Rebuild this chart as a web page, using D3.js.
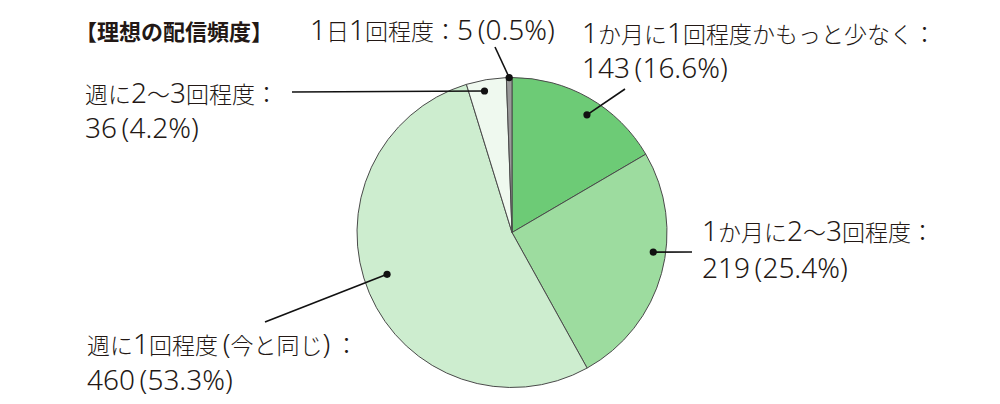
<!DOCTYPE html>
<html><head><meta charset="utf-8">
<script src="https://cdn.jsdelivr.net/npm/d3@7"></script>
<style>
html,body{margin:0;padding:0;background:#fff;}
text{font-family:"Noto Sans CJK JP","Noto Sans",sans-serif;fill:#231815;}
tspan.lat{font-family:"Noto Sans","Noto Sans CJK JP",sans-serif;}
</style></head>
<body><svg id="c" width="1000" height="404"></svg>
<script>
const title = "【理想の配信頻度】";
const categories = ["1か月に1回程度かもっと少なく：","1か月に2〜3回程度：","週に1回程度\u2009(今と同じ)\u2009：","週に2〜3回程度：","1日1回程度："];
const values = [143, 219, 460, 36, 5];
const percents = ["16.6%","25.4%","53.3%","4.2%","0.5%"];
const colors = ["#6dcb76","#9ddc9f","#cdedcf","#eff9ef","#9a9a9a"];

// label layout (positions only)
const layout = [
  {dotAngle:32.5, dotR:0.90, lineEnd:[625,89], tx:582, ty:[43,78]},
  {dotAngle:97.9, dotR:0.92, lineEnd:[692,252], tx:702, ty:[241,278]},
  {dotAngle:251.5, dotR:0.85, lineEnd:[265,322], tx:87, ty:[354,390]},
  {dotAngle:349, dotR:0.93, lineEnd:[292,92], tx:85, ty:[103,138]},
  {dotAngle:null, dotR:1.0, lineEnd:[495,47], tx:310, ty:[40]}
];

const svg = d3.select("#c");
const cx = 512, cy = 232.5, R = 155;
const g = svg.append("g").attr("transform",`translate(${cx},${cy})`);
const pie = d3.pie().sort(null).value(d=>d)(values);
const arc = d3.arc().innerRadius(0).outerRadius(R);
g.selectAll("path").data(pie).join("path")
  .attr("d",arc).attr("fill",(d,i)=>colors[i])
  .attr("stroke","#4a4a4a").attr("stroke-width",1);

const FS_CJK = 23, FS_LAT = 28;
function addText(x, y, str){
  const t = svg.append("text").attr("x",x).attr("y",y).attr("font-weight",300);
  const runs = str.match(/[\x20-\x7e\u2009]+|[^\x20-\x7e\u2009]+/g);
  runs.forEach(r=>{
    const lat = /^[\x20-\x7e\u2009]/.test(r);
    t.append("tspan").attr("class", lat ? "lat" : null)
      .attr("font-size", lat ? FS_LAT : FS_CJK).text(r);
  });
}

pie.forEach((d,i)=>{
  const L = layout[i];
  const ang = L.dotAngle==null ? (d.startAngle+d.endAngle)/2 : L.dotAngle*Math.PI/180;
  const px = cx + Math.sin(ang)*R*L.dotR, py = cy - Math.cos(ang)*R*L.dotR;
  svg.append("line").attr("x1",px).attr("y1",py).attr("x2",L.lineEnd[0]).attr("y2",L.lineEnd[1])
    .attr("stroke","#111").attr("stroke-width",1.6);
  svg.append("circle").attr("cx",px).attr("cy",py).attr("r",3.6).attr("fill","#111");
  const t1 = categories[i], t2 = values[i] + "\u2009(" + percents[i] + ")";
  if (L.ty.length===1){
    addText(L.tx, L.ty[0], t1 + t2);
  } else {
    addText(L.tx, L.ty[0], t1);
    addText(L.tx, L.ty[1], t2);
  }
});
svg.append("text").attr("x",75).attr("y",40).attr("font-size",22).attr("font-weight",700).text(title);
</script></body></html>
